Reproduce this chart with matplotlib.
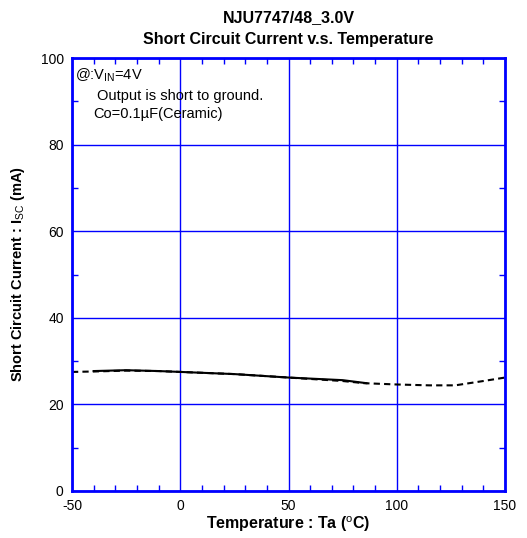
import numpy as np
import matplotlib
matplotlib.use("Agg")
import matplotlib.pyplot as plt
from matplotlib.ticker import MultipleLocator

plt.rcParams['font.family'] = ['Liberation Sans', 'DejaVu Sans']
plt.rcParams['mathtext.fontset'] = 'custom'
plt.rcParams['mathtext.rm'] = 'Liberation Sans'
plt.rcParams['mathtext.it'] = 'Liberation Sans'
plt.rcParams['mathtext.bf'] = 'Liberation Sans:bold'
plt.rcParams['axes.unicode_minus'] = False

# dashed curve (full range)
t_dash = [-50, -40, -25, -10, 0, 25, 50, 75, 85, 100, 115, 127, 140, 150]
i_dash = [27.5, 27.6, 27.8, 27.7, 27.5, 27.0, 26.2, 25.4, 24.9, 24.6, 24.4, 24.4, 25.4, 26.2]
# solid curve
t_solid = [-40, -25, -10, 0, 25, 50, 75, 86]
i_solid = [27.7, 27.9, 27.7, 27.5, 27.0, 26.2, 25.6, 24.9]

fig = plt.figure(figsize=(5.27, 5.38), dpi=100)
ax = fig.add_axes([72/527, 1-491/538, 433/527, 433/538])

ax.plot(t_dash, i_dash, color='black', lw=1.5, ls=(0, (3, 2)))
ax.plot(t_solid, i_solid, color='black', lw=1.5)

ax.set_xlim(-50, 150)
ax.set_ylim(0, 100)
ax.xaxis.set_major_locator(MultipleLocator(50))
ax.xaxis.set_minor_locator(MultipleLocator(10))
ax.yaxis.set_major_locator(MultipleLocator(20))
ax.yaxis.set_minor_locator(MultipleLocator(10))
ax.tick_params(which='both', direction='in', top=True, right=True, color='blue',
               labelsize=10)
ax.tick_params(which='major', length=0, pad=6)
ax.tick_params(which='minor', length=4, width=1)
ax.grid(True, which='major', color='blue', lw=1)
for s in ax.spines.values():
    s.set_color('blue')
    s.set_linewidth(2)

ax.set_xlabel('Temperature : Ta ($^\\mathrm{o}$C)', fontsize=11.5, fontweight='bold', labelpad=1)
ax.set_ylabel('Short Circuit Current : I$_{\\mathrm{SC}}$ (mA)', fontsize=10.5,
              fontweight='bold', labelpad=10)
ax.set_title('NJU7747/48_3.0V\nShort Circuit Current v.s. Temperature',
             fontsize=11.5, fontweight='bold', linespacing=1.6, pad=10)

ax.text(-48.6, 96, '@:V$_{\\mathrm{IN}}$=4V', fontsize=10.5, va='center')
ax.text(-38.5, 91.2, 'Output is short to ground.', fontsize=10.5, va='center')
ax.text(-40.3, 87, 'Co=0.1\u00b5F(Ceramic)', fontsize=10.5, va='center')

fig.savefig('out.png', dpi=100)
